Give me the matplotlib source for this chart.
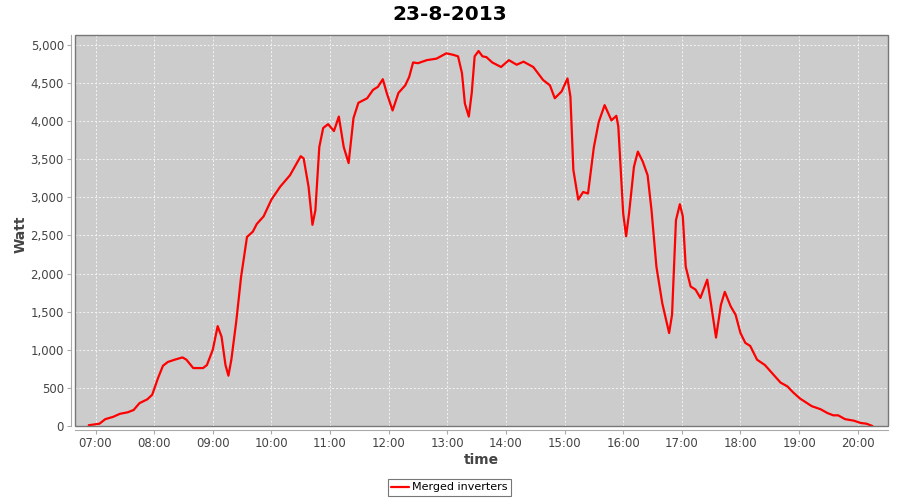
import pandas as pd
import matplotlib
matplotlib.use('Agg')
import matplotlib.pyplot as plt
import matplotlib.dates as mdates
from matplotlib.patches import Rectangle
from matplotlib.ticker import FuncFormatter

############# data ###############################################################

day = '2013-08-23'
title = '23-8-2013'
series_name = 'Merged inverters'

times = ['06:53', '07:04', '07:10', '07:18', '07:25', '07:33', '07:39', '07:45', '07:53', '07:58',
         '08:04', '08:09', '08:14', '08:21', '08:29', '08:33', '08:40', '08:50', '08:54', '09:00',
         '09:05', '09:09', '09:13', '09:16', '09:19', '09:24', '09:29', '09:35', '09:41', '09:45',
         '09:52', '10:00', '10:09', '10:19', '10:26', '10:30', '10:33', '10:38', '10:42', '10:45',
         '10:49', '10:53', '10:58', '11:04', '11:09', '11:14', '11:19', '11:24', '11:29', '11:38',
         '11:44', '11:49', '11:54', '11:58', '12:04', '12:10', '12:17', '12:21', '12:25', '12:30',
         '12:39', '12:49', '12:59', '13:06', '13:11', '13:15', '13:18', '13:22', '13:25', '13:28',
         '13:32', '13:36', '13:40', '13:46', '13:55', '14:03', '14:11', '14:18', '14:28', '14:38',
         '14:45', '14:50', '14:57', '15:03', '15:06', '15:09', '15:14', '15:19', '15:24', '15:30',
         '15:35', '15:41', '15:48', '15:53', '15:55', '16:00', '16:03', '16:06', '16:11', '16:15',
         '16:20', '16:25', '16:29', '16:34', '16:40', '16:47', '16:50', '16:54', '16:58', '17:01',
         '17:04', '17:09', '17:14', '17:19', '17:26', '17:30', '17:35', '17:40', '17:44', '17:50',
         '17:55', '18:00', '18:05', '18:10', '18:17', '18:25', '18:32', '18:41', '18:48', '18:54',
         '19:01', '19:13', '19:22', '19:29', '19:35', '19:40', '19:47', '19:56', '20:03', '20:09',
         '20:15']

watts = [10, 30, 90, 120, 160, 180, 210, 300, 350, 410,
         630, 790, 840, 870, 900, 870, 760, 760, 800, 1000,
         1310, 1170, 800, 660, 870, 1370, 1960, 2480, 2550, 2650,
         2750, 2970, 3140, 3290, 3450, 3540, 3510, 3140, 2640, 2830,
         3660, 3910, 3960, 3870, 4060, 3660, 3450, 4040, 4240, 4300,
         4410, 4450, 4550, 4370, 4140, 4370, 4470, 4580, 4770, 4760,
         4800, 4820, 4890, 4870, 4850, 4630, 4230, 4060, 4370, 4850,
         4920, 4850, 4840, 4770, 4710, 4800, 4740, 4780, 4710, 4540,
         4470, 4300, 4390, 4560, 4320, 3360, 2970, 3070, 3050, 3660,
         3990, 4210, 4010, 4070, 3930, 2790, 2490, 2790, 3400, 3600,
         3470, 3290, 2830, 2090, 1610, 1220, 1460, 2700, 2910, 2750,
         2090, 1830, 1790, 1680, 1920, 1590, 1160, 1590, 1760, 1570,
         1460, 1220, 1090, 1050, 870, 800, 700, 570, 520, 440,
         360, 260, 220, 170, 140, 140, 90, 70, 40, 30,
         0]

y_ticks = list(range(0, 5001, 500))

############ plot ################################################################

x = pd.to_datetime([day + ' ' + t for t in times])

fig = plt.figure(figsize=(9, 5), dpi=100)
ax = fig.add_axes([75 / 900, 74 / 500, 813 / 900, 391 / 500])
ax.set_facecolor('#cccccc')

ax.plot(x, watts, color='#ff0000', lw=1.6, solid_joinstyle='round',
        solid_capstyle='round', label=series_name)

ax.set_xlim(pd.Timestamp(day + ' 06:39'), pd.Timestamp(day + ' 20:31'))
ax.set_ylim(0, 5130)
ax.xaxis.set_major_locator(mdates.HourLocator())
ax.xaxis.set_major_formatter(mdates.DateFormatter('%H:%M'))
ax.set_yticks(y_ticks)
ax.yaxis.set_major_formatter(FuncFormatter(lambda v, p: '{:,.0f}'.format(v)))

ax.grid(True, color='#f4f4f4', lw=0.7, linestyle=(0, (2, 2)))
ax.set_axisbelow(True)

# jfreechart style: outline round the plot, axis lines a few px outside
for s in ['top', 'right']:
    ax.spines[s].set_visible(False)
for s in ['left', 'bottom']:
    ax.spines[s].set_position(('outward', 3))
    ax.spines[s].set_color('#aaaaaa')
ax.add_patch(Rectangle((0, 0), 1, 1, transform=ax.transAxes, fill=False,
                       edgecolor='#777777', lw=1, clip_on=False, zorder=5))

ax.tick_params(axis='both', length=3, width=0.8, color='#aaaaaa', labelsize=8.5,
               labelcolor='#444444', pad=2)

ax.set_xlabel('time', fontsize=10, fontweight='bold', color='#444444')
ax.set_ylabel('Watt', fontsize=10, fontweight='bold', color='#444444')
ax.xaxis.set_label_coords(0.5, -0.07)
ax.yaxis.set_label_coords(-0.058, 0.49)

fig.suptitle(title, y=0.972, va='center', fontsize=14.5, fontweight='bold')

leg = fig.legend(loc='center', bbox_to_anchor=(0.4994, 0.025), fontsize=8,
                 frameon=True, fancybox=False, handlelength=1.6, handletextpad=0.3,
                 borderpad=0.3, borderaxespad=0)
leg.get_frame().set_edgecolor('#555555')
leg.get_frame().set_linewidth(0.8)

fig.savefig('out.png', dpi=100)
